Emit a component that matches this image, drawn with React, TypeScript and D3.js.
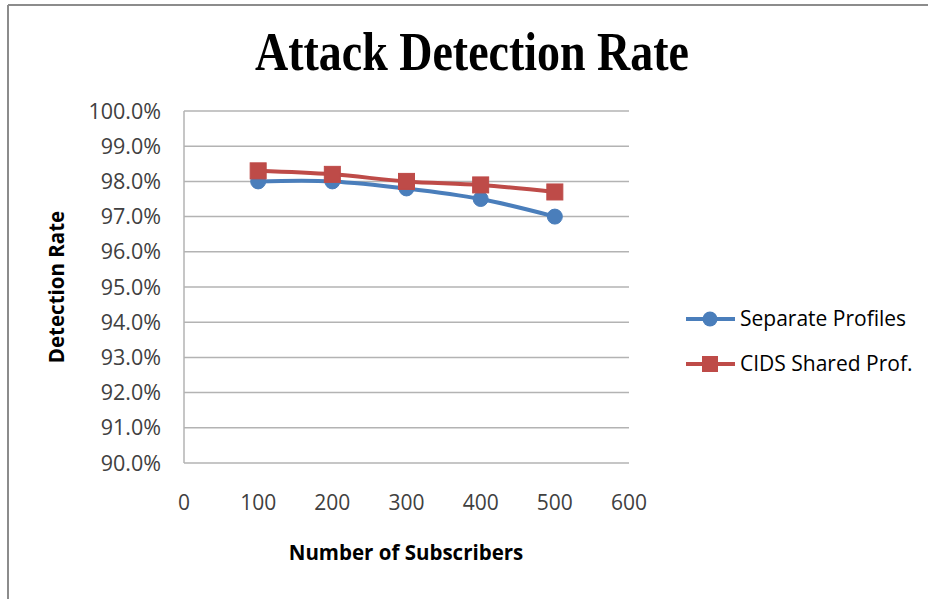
import React from "react";
import * as d3 from "d3";

const subscribers = [100, 200, 300, 400, 500];
const separateProfiles = [98.0, 98.0, 97.8, 97.5, 97.0];
const cidsShared = [98.3, 98.2, 98.0, 97.9, 97.7];
const xTicks = [0, 100, 200, 300, 400, 500, 600];
const yTicks = [90, 91, 92, 93, 94, 95, 96, 97, 98, 99, 100];
const seriesNames = ["Separate Profiles", "CIDS Shared Prof."];

const W = 928;
const H = 599;
const BLUE = "#4a7ebb";
const RED = "#be4b48";
const GRID = "#b3b3b3";
const TXT = "#404040";

export default function App() {
  const x = d3.scaleLinear().domain([0, 600]).range([184, 629]);
  const y = d3.scaleLinear().domain([90, 100]).range([463, 111]);
  const line = d3
    .line<[number, number]>()
    .x((d) => x(d[0]))
    .y((d) => y(d[1]))
    .curve(d3.curveCardinal.tension(0));
  const blueData: [number, number][] = subscribers.map((s, i) => [s, separateProfiles[i]]);
  const redData: [number, number][] = subscribers.map((s, i) => [s, cidsShared[i]]);
  const tickFont = "'Open Sans', 'Noto Sans', sans-serif";

  return (
    <svg
      width={W}
      height={H}
      style={{ position: "absolute", left: 0, top: 0, background: "#fff" }}
    >
      <rect x={0} y={0} width={W} height={H} fill="#fff" />
      {/* frame */}
      <line x1={8} y1={5} x2={W} y2={5} stroke="#8c8c8c" strokeWidth={2} />
      <line x1={8} y1={5} x2={8} y2={H} stroke="#8c8c8c" strokeWidth={2} />

      {/* title */}
      <text
        x={472}
        y={70}
        textAnchor="middle"
        fontFamily="'Liberation Serif', 'DejaVu Serif', serif"
        fontWeight="bold"
        fontSize={54}
        textLength={434}
        lengthAdjust="spacingAndGlyphs"
        fill="#000"
      >
        Attack Detection Rate
      </text>

      {/* gridlines */}
      {yTicks.map((t) => (
        <line
          key={"g" + t}
          x1={x(0)}
          x2={x(600)}
          y1={y(t)}
          y2={y(t)}
          stroke={GRID}
          strokeWidth={1.5}
        />
      ))}
      <line x1={x(0)} x2={x(0)} y1={y(100)} y2={y(90)} stroke={GRID} strokeWidth={1.5} />

      {/* y tick labels */}
      {yTicks.map((t) => (
        <text
          key={"y" + t}
          x={161}
          y={y(t)}
          dy="0.35em"
          textAnchor="end"
          fontFamily={tickFont}
          fontSize={21.5}
          fill={TXT}
        >
          {t.toFixed(1) + "%"}
        </text>
      ))}

      {/* x tick labels */}
      {xTicks.map((t) => (
        <text
          key={"x" + t}
          x={x(t)}
          y={503}
          dy="0.35em"
          textAnchor="middle"
          fontFamily={tickFont}
          fontSize={21}
          fill={TXT}
        >
          {t}
        </text>
      ))}

      {/* axis titles */}
      <text
        x={406}
        y={553}
        dy="0.35em"
        textAnchor="middle"
        fontFamily={tickFont}
        fontWeight="bold"
        fontSize={20.5}
        fill="#000"
      >
        Number of Subscribers
      </text>
      <text
        transform={`translate(57,287) rotate(-90)`}
        dy="0.35em"
        textAnchor="middle"
        fontFamily={tickFont}
        fontWeight="bold"
        fontSize={20.5}
        fill="#000"
      >
        Detection Rate
      </text>

      {/* series */}
      <path d={line(blueData) || ""} fill="none" stroke={BLUE} strokeWidth={4} />
      <path d={line(redData) || ""} fill="none" stroke={RED} strokeWidth={4} />
      {blueData.map((d, i) => (
        <circle key={"b" + i} cx={x(d[0])} cy={y(d[1])} r={7.5} fill={BLUE} stroke={BLUE} strokeWidth={1} />
      ))}
      {redData.map((d, i) => (
        <rect
          key={"r" + i}
          x={x(d[0]) - 8}
          y={y(d[1]) - 8}
          width={16}
          height={16}
          fill={RED}
          stroke={RED}
          strokeWidth={1}
        />
      ))}

      {/* legend */}
      <line x1={686} x2={735} y1={319} y2={319} stroke={BLUE} strokeWidth={4} />
      <circle cx={710} cy={319} r={7.5} fill={BLUE} />
      <text x={740} y={319} dy="0.35em" fontFamily={tickFont} fontSize={21} fill="#000">
        {seriesNames[0]}
      </text>
      <line x1={686} x2={735} y1={364} y2={364} stroke={RED} strokeWidth={4} />
      <rect x={702} y={356} width={16} height={16} fill={RED} />
      <text x={740} y={364} dy="0.35em" fontFamily={tickFont} fontSize={21} fill="#000">
        {seriesNames[1]}
      </text>
    </svg>
  );
}
